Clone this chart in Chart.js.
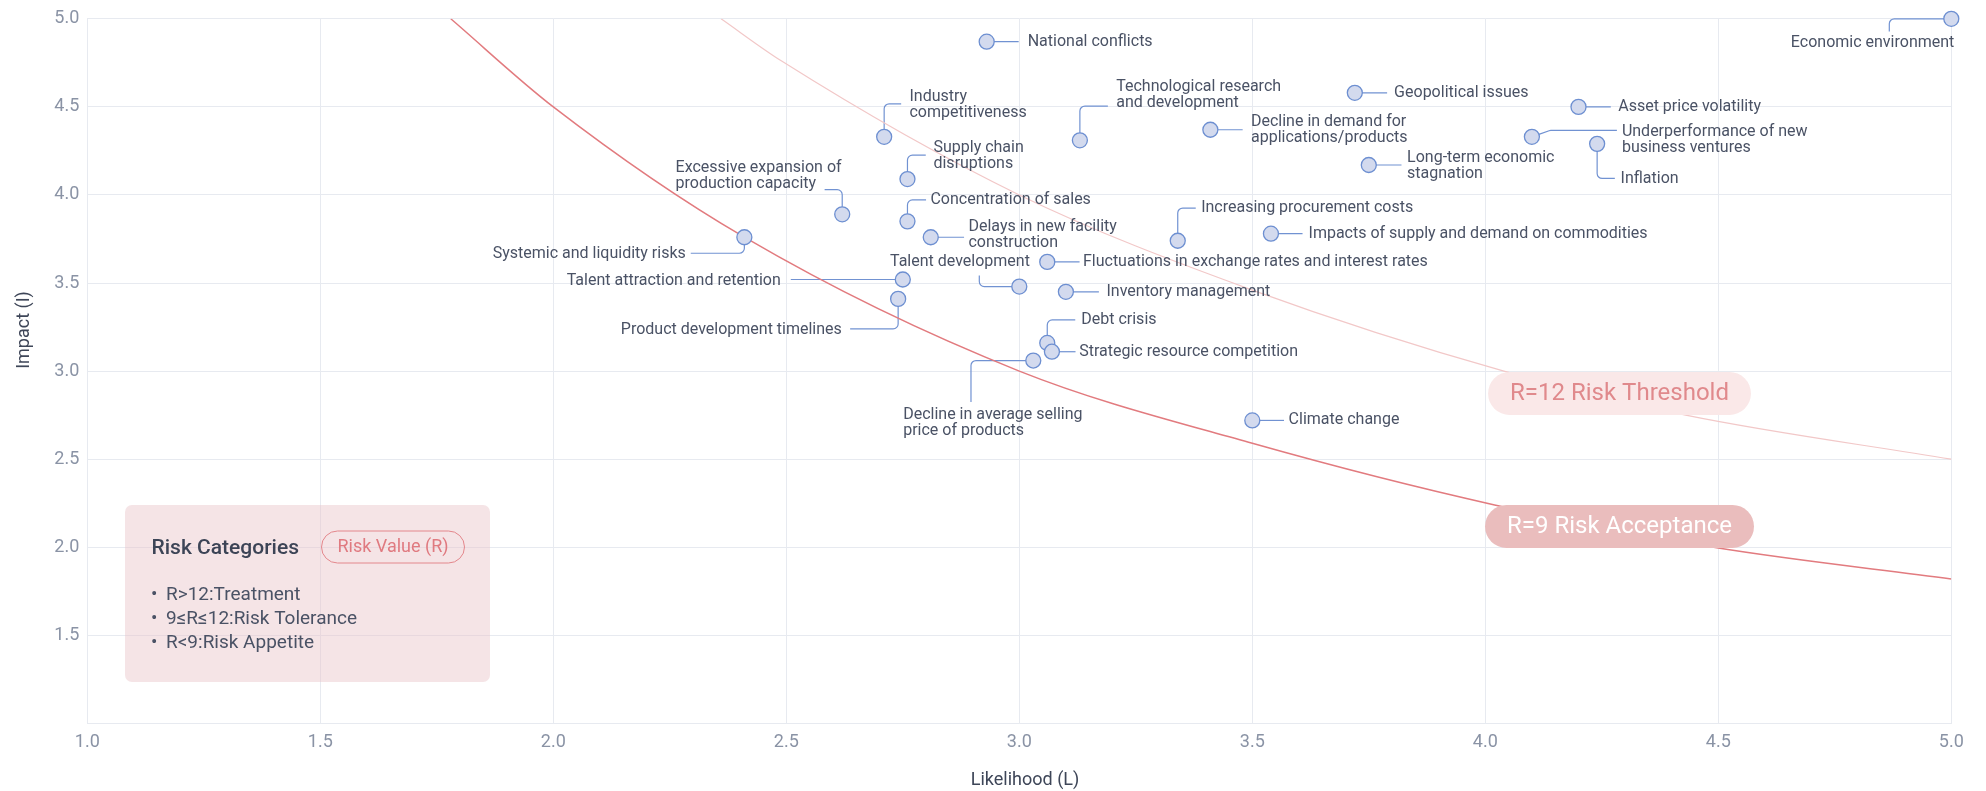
<!DOCTYPE html>
<html>
<head>
<meta charset="utf-8">
<title>Risk Matrix</title>
<script src="https://cdn.jsdelivr.net/npm/chart.js@4.4.0/dist/chart.umd.min.js"></script>
<style>
  html, body { margin: 0; padding: 0; background: #fff; }
  #wrap { width: 1986px; height: 791px; }
</style>
</head>
<body>
<div id="wrap"><canvas id="riskChart" width="1986" height="791"></canvas></div>
<script>
const riskNames = [
  'National conflicts',
  'Economic environment',
  'Industry\ncompetitiveness',
  'Technological research\nand development',
  'Decline in demand for\napplications/products',
  'Geopolitical issues',
  'Asset price volatility',
  'Underperformance of new\nbusiness ventures',
  'Inflation',
  'Long-term economic\nstagnation',
  'Supply chain\ndisruptions',
  'Excessive expansion of\nproduction capacity',
  'Concentration of sales',
  'Delays in new facility\nconstruction',
  'Systemic and liquidity risks',
  'Talent attraction and retention',
  'Product development timelines',
  'Talent development',
  'Fluctuations in exchange rates and interest rates',
  'Inventory management',
  'Increasing procurement costs',
  'Impacts of supply and demand on commodities',
  'Debt crisis',
  'Strategic resource competition',
  'Decline in average selling\nprice of products',
  'Climate change'
];
const likelihood = [2.93, 5.0, 2.71, 3.13, 3.41, 3.72, 4.2, 4.1, 4.24, 3.75, 2.76, 2.62, 2.76, 2.81, 2.41,
  2.75, 2.74, 3.0, 3.06, 3.1, 3.34, 3.54, 3.06, 3.07, 3.03, 3.5];
const impact = [4.87, 5.0, 4.33, 4.31, 4.37, 4.58, 4.5, 4.33, 4.29, 4.17, 4.09, 3.89, 3.85, 3.76, 3.76,
  3.52, 3.41, 3.48, 3.62, 3.45, 3.74, 3.78, 3.16, 3.11, 3.06, 2.72];

// Risk value curves
const r9Likelihood = [1.78, 2.0, 2.41, 3.0, 3.5, 4.02, 4.49, 5.0];
const r9Impact = [5.0, 4.5, 3.76, 3.0, 2.59, 2.24, 2.0, 1.82];
const r12Likelihood = [2.36, 2.49, 3.0, 3.5, 4.04, 4.43, 5.0];
const r12Impact = [5.0, 4.76, 4.0, 3.46, 3.0, 2.75, 2.5];

// axis ticks
const tickValues = [1.0, 1.5, 2.0, 2.5, 3.0, 3.5, 4.0, 4.5, 5.0];

// label placement around each point (px offsets from the point)
const labelLayout = [
  { align: 'left', tx: 41, ty: 0, path: [[8, 0], [32, 0]] },
  { align: 'right', tx: 3, ty: 24.4, path: [[-8, 0], [-62, 0], [-62, 12.6]] },
  { align: 'left', tx: 25.3, ty: -39.7, path: [[0, -8], [0, -33], [17, -33]] },
  { align: 'left', tx: 36.3, ty: -53.6, path: [[0, -8], [0, -34.3], [28, -34.3]] },
  { align: 'left', tx: 40.6, ty: -8, path: [[8, 0], [32.3, 0]] },
  { align: 'left', tx: 39.3, ty: 0, path: [[8, 0], [32.3, 0]] },
  { align: 'left', tx: 39.7, ty: 0, path: [[8, 0], [32.3, 0]] },
  { align: 'left', tx: 90, ty: -5, path: [[7, -2.5], [18, -6.4], [85, -6.4]] },
  { align: 'left', tx: 23.4, ty: 35.6, path: [[0, 8], [0, 34.6], [17.7, 34.6]] },
  { align: 'left', tx: 38.3, ty: -6.6, path: [[8, 0], [32.7, 0]] },
  { align: 'left', tx: 26, ty: -30.6, path: [[0, -8], [0, -24], [18.3, -24]] },
  { align: 'left', tx: -166.6, ty: -46.3, path: [[0, -8], [0, -24.7], [-17.6, -24.7]] },
  { align: 'left', tx: 23, ty: -21.4, path: [[0, -8], [0, -21.4], [18.6, -21.4]] },
  { align: 'left', tx: 37.7, ty: -10, path: [[8, 0], [33.3, 0]] },
  { align: 'right', tx: -58.6, ty: 17, path: [[0, 8], [0, 16], [-53.6, 16]] },
  { align: 'right', tx: -122, ty: 1, path: [[-8, 0], [-112, 0]] },
  { align: 'right', tx: -56.3, ty: 31.6, path: [[0, 8], [0, 30], [-48, 30]] },
  { align: 'left', tx: -129.3, ty: -25, path: [[-8, 0], [-40, 0], [-40, -11]] },
  { align: 'left', tx: 35.7, ty: 0, path: [[8, 0], [32.3, 0]] },
  { align: 'left', tx: 40.6, ty: 0, path: [[8, 0], [33, 0]] },
  { align: 'left', tx: 23.4, ty: -32.7, path: [[0, -8], [0, -32.7], [18, -32.7]] },
  { align: 'left', tx: 37.6, ty: 0, path: [[8, 0], [31.6, 0]] },
  { align: 'left', tx: 34, ty: -23, path: [[0, -8], [0, -23], [28, -23]] },
  { align: 'left', tx: 27.3, ty: 0, path: [[8, 0], [23.6, 0]] },
  { align: 'left', tx: -130.1, ty: 54.7, path: [[-8, 0], [-62.3, 0], [-62.3, 41.4]] },
  { align: 'left', tx: 36.3, ty: 0, path: [[8, 0], [31.7, 0]] }
];

// pill labels sitting on the curves
const curveLabels = [
  { text: 'R=12 Risk Threshold', at: [4.288, 2.873], fill: '#fae8e8', color: '#e0898c' },
  { text: 'R=9 Risk Acceptance', at: [4.288, 2.118], fill: '#eabdbd', color: '#ffffff' }
];

const FONT = 'Roboto';
const GRID = '#e7eaf0';
const TICK = '#8a93a5';
const TITLE = '#3e4658';
const LABEL = '#4a5265';
const LEADER = '#7192d2';

function pillPath(ctx, x, y, w, h, r) {
  ctx.beginPath();
  ctx.moveTo(x + r, y);
  ctx.lineTo(x + w - r, y);
  ctx.arcTo(x + w, y, x + w, y + r, r);
  ctx.lineTo(x + w, y + h - r);
  ctx.arcTo(x + w, y + h, x + w - r, y + h, r);
  ctx.lineTo(x + r, y + h);
  ctx.arcTo(x, y + h, x, y + h - r, r);
  ctx.lineTo(x, y + r);
  ctx.arcTo(x, y, x + r, y, r);
  ctx.closePath();
}

const riskLabelPlugin = {
  id: 'riskLabels',
  beforeDatasetsDraw(chart) {
    const ctx = chart.ctx;
    const meta = chart.getDatasetMeta(0);
    ctx.save();
    ctx.strokeStyle = LEADER;
    ctx.lineWidth = 1.2;
    meta.data.forEach((pt, i) => {
      const p = labelLayout[i].path.map(([dx, dy]) => [pt.x + dx, pt.y + dy]);
      ctx.beginPath();
      ctx.moveTo(pt.x, pt.y);
      ctx.lineTo(p[0][0], p[0][1]);
      for (let k = 1; k < p.length - 1; k++) {
        ctx.arcTo(p[k][0], p[k][1], p[k + 1][0], p[k + 1][1], 5);
      }
      ctx.lineTo(p[p.length - 1][0], p[p.length - 1][1]);
      ctx.stroke();
    });
    ctx.restore();
  },
  afterDatasetsDraw(chart) {
    const ctx = chart.ctx;
    const meta = chart.getDatasetMeta(0);
    ctx.save();
    ctx.font = '16px ' + FONT;
    ctx.fillStyle = LABEL;
    ctx.textBaseline = 'middle';
    meta.data.forEach((pt, i) => {
      const lay = labelLayout[i];
      ctx.textAlign = lay.align;
      riskNames[i].split('\n').forEach((line, k) => {
        ctx.fillText(line, pt.x + lay.tx, pt.y + lay.ty + k * 16);
      });
    });

    // curve labels
    const xs = chart.scales.x, ys = chart.scales.y;
    ctx.font = '24px ' + FONT;
    ctx.textAlign = 'center';
    curveLabels.forEach(c => {
      const cx = xs.getPixelForValue(c.at[0]);
      const cy = ys.getPixelForValue(c.at[1]);
      const w = ctx.measureText(c.text).width + 44;
      const h = 43;
      ctx.fillStyle = c.fill;
      pillPath(ctx, cx - w / 2, cy - h / 2, w, h, h / 2);
      ctx.fill();
      ctx.fillStyle = c.color;
      ctx.fillText(c.text, cx, cy + 1);
    });
    ctx.restore();
  },
  afterDraw(chart) {
    const ctx = chart.ctx;
    ctx.save();
    // axis titles
    ctx.fillStyle = TITLE;
    ctx.font = '18px ' + FONT;
    ctx.textAlign = 'center';
    ctx.textBaseline = 'middle';
    ctx.fillText('Likelihood (L)', 1025, 780);
    ctx.translate(24, 330);
    ctx.rotate(-Math.PI / 2);
    ctx.fillText('Impact (I)', 0, 0);
    ctx.setTransform(1, 0, 0, 1, 0, 0);

    // risk category box
    ctx.fillStyle = 'rgba(232, 196, 200, 0.45)';
    pillPath(ctx, 125, 505, 365, 177, 7);
    ctx.fill();
    ctx.textAlign = 'left';
    ctx.fillStyle = '#3c4456';
    ctx.font = '500 21px ' + FONT;
    ctx.fillText('Risk Categories', 151.5, 549);

    ctx.strokeStyle = '#e3868b';
    ctx.lineWidth = 1;
    pillPath(ctx, 321.5, 531, 143, 32, 16);
    ctx.stroke();
    ctx.fillStyle = '#e07a80';
    ctx.font = '18px ' + FONT;
    ctx.textAlign = 'center';
    ctx.fillText('Risk Value (R)', 393, 547.5);

    ctx.fillStyle = LABEL;
    ctx.font = '19px ' + FONT;
    ctx.textAlign = 'left';
    ['R>12:Treatment', '9\u2264R\u226412:Risk Tolerance', 'R<9:Risk Appetite'].forEach((t, k) => {
      const y = 595 + k * 24.2;
      ctx.fillText('\u2022', 151, y);
      ctx.fillText(t, 166, y);
    });
    ctx.restore();
  }
};

const ctx = document.getElementById('riskChart').getContext('2d');
new Chart(ctx, {
  type: 'scatter',
  data: {
    datasets: [
      {
        label: 'Risks',
        data: likelihood.map((l, i) => ({ x: l, y: impact[i] })),
        pointRadius: 7.5,
        pointBackgroundColor: '#d3daee',
        pointBorderColor: '#6d8fd1',
        pointBorderWidth: 1.3,
        showLine: false,
        clip: false
      },
      {
        label: 'R=12',
        data: r12Likelihood.map((l, i) => ({ x: l, y: r12Impact[i] })),
        showLine: true,
        pointRadius: 0,
        borderColor: '#f2c8c8',
        borderWidth: 1.2,
        cubicInterpolationMode: 'monotone'
      },
      {
        label: 'R=9',
        data: r9Likelihood.map((l, i) => ({ x: l, y: r9Impact[i] })),
        showLine: true,
        pointRadius: 0,
        borderColor: '#e27b7f',
        borderWidth: 1.5,
        cubicInterpolationMode: 'monotone'
      }
    ]
  },
  options: {
    responsive: false,
    animation: false,
    devicePixelRatio: 1,
    layout: { padding: { top: 16.7, right: 34.7, left: 0, bottom: 0 } },
    plugins: { legend: { display: false }, tooltip: { enabled: false } },
    scales: {
      x: {
        type: 'linear',
        min: 1,
        max: 5,
        afterBuildTicks: s => { s.ticks = tickValues.map(v => ({ value: v })); },
        afterFit: s => { s.height = 67.6; },
        grid: { color: GRID, drawTicks: false },
        border: { color: GRID },
        ticks: {
          padding: 8,
          color: TICK,
          autoSkip: false,
          maxRotation: 0,
          font: { family: FONT, size: 18 },
          callback: v => Number(v).toFixed(1)
        }
      },
      y: {
        type: 'linear',
        min: 1,
        max: 5,
        afterBuildTicks: s => { s.ticks = tickValues.map(v => ({ value: v })); },
        afterFit: s => { s.width = 87.3; },
        grid: { color: GRID, drawTicks: false },
        border: { color: GRID },
        ticks: {
          padding: 8,
          color: TICK,
          autoSkip: false,
          font: { family: FONT, size: 18 },
          callback: v => (v === 1 ? '' : Number(v).toFixed(1))
        }
      }
    }
  },
  plugins: [riskLabelPlugin]
});
</script>
</body>
</html>
